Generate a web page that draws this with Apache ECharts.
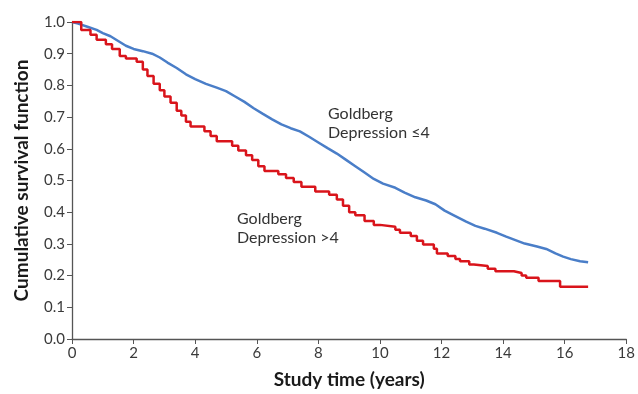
<!DOCTYPE html>
<html>
<head>
<meta charset="utf-8">
<script src="https://cdn.jsdelivr.net/npm/echarts@6/dist/echarts.min.js"></script>
<style>html,body{margin:0;padding:0;background:#fff}#c{width:638px;height:394px}</style>
</head>
<body>
<div id="c"></div>
<script>
// Data
var xTicks = [0, 2, 4, 6, 8, 10, 12, 14, 16, 18];
var yTicks = [0.0, 0.1, 0.2, 0.3, 0.4, 0.5, 0.6, 0.7, 0.8, 0.9, 1.0];
var seriesNames = ['Goldberg Depression ≤4', 'Goldberg Depression >4'];
var lowDepression = [
  [0,1.0],[0.2,0.995],[0.5,0.985],[0.8,0.975],[1.0,0.965],[1.25,0.955],[1.5,0.94],[1.75,0.925],
  [2.0,0.915],[2.3,0.908],[2.6,0.9],[2.85,0.888],[3.1,0.872],[3.4,0.855],[3.7,0.835],[4.0,0.82],
  [4.35,0.805],[4.7,0.793],[5.0,0.782],[5.3,0.765],[5.6,0.748],[5.9,0.728],[6.2,0.71],[6.5,0.693],
  [6.8,0.677],[7.1,0.665],[7.4,0.655],[7.7,0.638],[8.0,0.62],[8.3,0.602],[8.6,0.585],[8.9,0.565],
  [9.2,0.545],[9.5,0.525],[9.8,0.505],[10.1,0.49],[10.5,0.477],[10.8,0.462],[11.15,0.447],
  [11.5,0.437],[11.8,0.425],[12.1,0.405],[12.4,0.39],[12.8,0.37],[13.1,0.357],[13.4,0.348],
  [13.8,0.335],[14.1,0.323],[14.4,0.312],[14.7,0.301],[15.1,0.292],[15.4,0.284],[15.7,0.27],
  [15.95,0.26],[16.2,0.252],[16.5,0.245],[16.76,0.242]
];
var highDepression = [
  [0,1.0],[0.3,0.975],[0.6,0.96],[0.8,0.944],[1.1,0.93],[1.3,0.915],[1.55,0.893],[1.75,0.885],
  [2.1,0.875],[2.3,0.85],[2.45,0.83],[2.65,0.805],[2.85,0.785],[3.0,0.765],[3.2,0.745],[3.4,0.72],
  [3.55,0.705],[3.7,0.685],[3.85,0.67],[4.3,0.655],[4.5,0.64],[4.7,0.624],[5.2,0.61],[5.4,0.595],
  [5.65,0.58],[5.85,0.565],[6.05,0.545],[6.25,0.53],[6.7,0.52],[6.95,0.508],[7.2,0.495],[7.45,0.48],
  [7.9,0.465],[8.35,0.455],[8.6,0.44],[8.8,0.42],[9.0,0.40],[9.2,0.39],[9.5,0.372],[9.8,0.36],
  [10.0,0.354],[10.5,0.345],[10.65,0.335],[11.0,0.325],[11.2,0.31],[11.4,0.298],[11.75,0.285],
  [11.85,0.27],[12.2,0.262],[12.45,0.252],[12.6,0.245],[12.9,0.235],[13.05,0.23],[13.5,0.222],
  [13.75,0.214],[14.35,0.208],[14.6,0.2],[14.75,0.193],[15.15,0.183],[15.85,0.165],[16.76,0.165]
];

var FONT = 'Lato, "Open Sans", sans-serif';
var chart = echarts.init(document.getElementById('c'), null, {renderer: 'canvas'});
chart.setOption({
  animation: false,
  backgroundColor: '#ffffff',
  grid: {left: 72, right: 10, top: 22, bottom: 50, containLabel: false},
  xAxis: {
    type: 'value', min: xTicks[0], max: xTicks[xTicks.length - 1], interval: 2,
    name: 'Study time (years)', nameLocation: 'middle', nameGap: 31,
    nameTextStyle: {fontFamily: FONT, fontWeight: 'bold', fontSize: 19, color: '#1a1a1a'},
    axisLine: {show: true, lineStyle: {color: '#555', width: 1.3}},
    axisTick: {show: true, inside: false, length: 5, lineStyle: {color: '#555'}},
    axisLabel: {fontFamily: FONT, fontSize: 15, color: '#3a3a3a', margin: 7},
    splitLine: {show: false}
  },
  yAxis: {
    type: 'value', min: yTicks[0], max: yTicks[yTicks.length - 1], interval: 0.1,
    name: 'Cumulative survival function', nameLocation: 'middle', nameGap: 41,
    nameTextStyle: {fontFamily: FONT, fontWeight: 'bold', fontSize: 19, color: '#1a1a1a'},
    axisLine: {show: true, lineStyle: {color: '#555', width: 1.3}},
    axisTick: {show: true, inside: false, length: 5, lineStyle: {color: '#555'}},
    axisLabel: {fontFamily: FONT, fontSize: 15, color: '#3a3a3a', margin: 7,
      formatter: function (v) { return v.toFixed(1); }},
    splitLine: {show: false}
  },
  series: [
    {name: seriesNames[0], type: 'line', data: lowDepression, showSymbol: false,
     lineStyle: {color: '#4a7ec8', width: 2.5}, itemStyle: {color: '#4a7ec8'}, z: 3},
    {name: seriesNames[1], type: 'line', step: 'end', data: highDepression, showSymbol: false,
     lineStyle: {color: '#d9141b', width: 2.5}, itemStyle: {color: '#d9141b'}, z: 4}
  ],
  graphic: [
    {type: 'text', left: 328, top: 104, style: {text: 'Goldberg\nDepression ≤4', fontFamily: FONT, fontSize: 16, lineHeight: 19, fill: '#333'}},
    {type: 'text', left: 237, top: 209, style: {text: 'Goldberg\nDepression >4', fontFamily: FONT, fontSize: 16, lineHeight: 19, fill: '#333'}}
  ]
});
</script>
</body>
</html>
